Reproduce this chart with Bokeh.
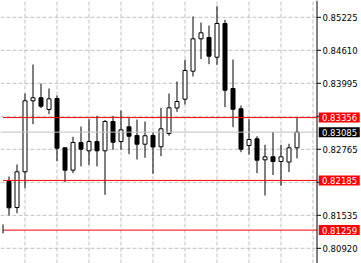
from bokeh.plotting import figure
from bokeh.models import ColumnDataSource
from bokeh.core.properties import value
from bokeh.embed import file_html
from bokeh.resources import INLINE

# ---- data ----
bar_index = list(range(1, 38))
opens = [0.82165, 0.81680, 0.82346, 0.83669, 0.83725, 0.83507, 0.83712, 0.82793, 0.82376, 0.82892,
         0.82737, 0.82910, 0.82737, 0.83283, 0.82910, 0.83184, 0.83022, 0.82860, 0.83022, 0.82812,
         0.83060, 0.83535, 0.83699, 0.84221, 0.84824, 0.84849, 0.84481, 0.85110, 0.83898, 0.83520,
         0.82836, 0.82961, 0.82569, 0.82625, 0.82538, 0.82528, 0.82793]
highs = [0.82258, 0.82482, 0.83805, 0.84345, 0.83991, 0.83898, 0.83768, 0.82799, 0.82998, 0.83190,
         0.83326, 0.83389, 0.83311, 0.83389, 0.83488, 0.83345, 0.83320, 0.83283, 0.83084, 0.83538,
         0.83805, 0.84029, 0.84433, 0.85240, 0.85128, 0.85072, 0.85432, 0.85178, 0.84439, 0.83581,
         0.83326, 0.83009, 0.82849, 0.83091, 0.82849, 0.82868, 0.83352]
lows = [0.81531, 0.81574, 0.82040, 0.83233, 0.83531, 0.83419, 0.82543, 0.82152, 0.82320, 0.82445,
        0.82476, 0.82445, 0.81917, 0.82756, 0.82756, 0.82674, 0.82575, 0.82607, 0.82308, 0.82636,
        0.83017, 0.83464, 0.83600, 0.84122, 0.84444, 0.84351, 0.84340, 0.83550, 0.83177, 0.82711,
        0.82668, 0.82320, 0.81904, 0.82286, 0.82085, 0.82342, 0.82594]
closes = [0.81675, 0.82346, 0.83669, 0.83725, 0.83568, 0.83706, 0.82786, 0.82376, 0.82892, 0.82767,
          0.82910, 0.82737, 0.83283, 0.82897, 0.83128, 0.83009, 0.82860, 0.83017, 0.82808, 0.83147,
          0.83538, 0.83656, 0.84234, 0.84824, 0.84936, 0.84500, 0.85110, 0.83866, 0.83512, 0.82767,
          0.82948, 0.82562, 0.82625, 0.82538, 0.82625, 0.82793, 0.83085]

axis_ticks = [0.80920, 0.81535, 0.82150, 0.82765, 0.83380, 0.83995, 0.84610, 0.85225]
axis_labels = ["0.80920", "0.81535", "", "0.82765", "", "0.83995", "0.84610", "0.85225"]
level_lines = [0.83356, 0.82185, 0.81259]   # red horizontal levels
level_labels = ["0.83356", "0.82185", "0.81259"]
bid_price = 0.83085
bid_label = "0.83085"
grid_bars = list(range(3, 40, 4))

# ---- layout constants (bar units: 8 px per bar) ----
X0, X1 = -0.0625, 45.0625
Y0, Y1 = 0.806367, 0.855381
AXIS_X = 39.5          # price-scale line
FONT = value("DejaVu Sans")
FSIZE = "8.5px"

p = figure(width=361, height=263, x_range=(X0, X1), y_range=(Y0, Y1),
           x_axis_type=None, y_axis_type=None, output_backend="svg",
           toolbar_location=None, min_border=0)
p.outline_line_color = None
p.grid.visible = False
p.background_fill_color = "white"
p.border_fill_color = "white"

# ---- dashed grid ----
n = len(axis_ticks)
p.segment(x0=[X0] * n, y0=axis_ticks, x1=[AXIS_X] * n, y1=axis_ticks,
          line_color="#c0c0c0", line_width=1, line_dash="4 2")
m = len(grid_bars)
p.segment(x0=grid_bars, y0=[Y0] * m, x1=grid_bars, y1=[Y1] * m,
          line_color="#c0c0c0", line_width=1, line_dash="4 2")

# ---- candles ----
src = ColumnDataSource(dict(
    x=bar_index, high=highs, low=lows,
    top=[max(o, c) for o, c in zip(opens, closes)],
    bottom=[min(o, c) for o, c in zip(opens, closes)],
    fill=["white" if c >= o else "black" for o, c in zip(opens, closes)],
))
p.segment(x0="x", y0="low", x1="x", y1="high", source=src, line_color="black", line_width=1)
p.vbar(x="x", width=0.5, top="top", bottom="bottom", source=src,
       fill_color="fill", line_color="black", line_width=1)

# ---- level lines ----
k = len(level_lines)
p.segment(x0=[0.25] * k, y0=level_lines, x1=[AXIS_X] * k, y1=level_lines,
          line_color="#ff0000", line_width=1)
p.segment(x0=[X0], y0=[bid_price], x1=[AXIS_X], y1=[bid_price], line_color="#c0c0c0", line_width=1)
p.segment(x0=[0.25], y0=[0.81364], x1=[0.25], y1=[0.81196], line_color="black", line_width=1)

# ---- price scale ----
p.segment(x0=[AXIS_X], y0=[Y0], x1=[AXIS_X], y1=[Y1], line_color="black", line_width=1)
p.segment(x0=[AXIS_X] * n, y0=axis_ticks, x1=[AXIS_X + 0.5] * n, y1=axis_ticks,
          line_color="black", line_width=1)
p.text(x=[AXIS_X + 0.6875] * n, y=axis_ticks, text=axis_labels, text_font=FONT,
       text_font_size=FSIZE, text_color="black", text_baseline="middle", text_align="left")

# ---- boxed price labels ----
box_x = AXIS_X + 2.78
p.rect(x=[box_x] * k, y=level_lines, width=5.125, height=10, height_units="screen",
       fill_color="#ff0000", line_color=None)
p.rect(x=[box_x], y=[bid_price], width=5.125, height=10, height_units="screen",
       fill_color="black", line_color=None)
p.text(x=[AXIS_X + 0.625] * (k + 1), y=level_lines + [bid_price], text=level_labels + [bid_label],
       text_font=FONT, text_font_size=FSIZE, text_color="white",
       text_baseline="middle", text_align="left")

open("out.html", "w").write(file_html(p, INLINE))
